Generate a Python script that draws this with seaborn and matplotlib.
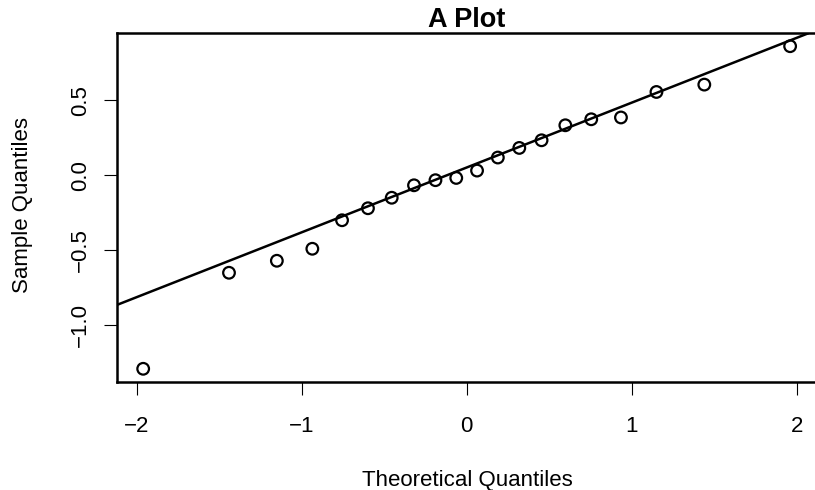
import numpy as np
import pandas as pd
import matplotlib
matplotlib.use("Agg")
import matplotlib.pyplot as plt
import seaborn as sns

# theoretical normal quantiles (n = 20) and the sample values
theoretical = [-1.960, -1.440, -1.150, -0.935, -0.755, -0.598, -0.454, -0.319, -0.189, -0.063,
               0.063, 0.189, 0.319, 0.454, 0.598, 0.755, 0.935, 1.150, 1.440, 1.960]
sample = [-1.29, -0.65, -0.57, -0.49, -0.30, -0.22, -0.15, -0.067, -0.033, -0.018,
          0.031, 0.118, 0.182, 0.233, 0.333, 0.373, 0.385, 0.555, 0.604, 0.86]
x_ticks = [-2, -1, 0, 1, 2]
y_ticks = [-1.0, -0.5, 0.0, 0.5]

df = pd.DataFrame({"theoretical": theoretical, "sample": sample})

sns.set_style("white")
plt.rcParams["font.family"] = ["Liberation Sans", "DejaVu Sans"]
plt.rcParams["text.color"] = "black"
plt.rcParams["axes.labelcolor"] = "black"

W, H = 815, 490
fig = plt.figure(figsize=(W / 100, H / 100), dpi=100)
ax = fig.add_axes([117.3 / W, 1 - 381.7 / H, (816 - 117.3) / W, (381.7 - 33.3) / H])

sns.scatterplot(data=df, x="theoretical", y="sample", ax=ax, marker="o", s=70,
                facecolor="none", edgecolor="black", linewidth=1.6, zorder=3)

# qq line through the quartiles (like R's qqline)
q1, q3 = np.quantile(sample, [0.25, 0.75])
slope = (q3 - q1) / (2 * 0.6745)
intercept = (q1 + q3) / 2
ax.axline((0, intercept), slope=slope, color="black", lw=1.8, zorder=4)

# R style 4% padding
def r_lim(v):
    lo, hi = min(v), max(v)
    pad = 0.04 * (hi - lo)
    return lo - pad, hi + pad

ax.set_xlim(*r_lim(theoretical))
ax.set_ylim(*r_lim(sample))

ax.set_xticks(x_ticks)
ax.set_xticklabels([str(t).replace("-", "\u2212") for t in x_ticks])
ax.set_yticks(y_ticks)
ax.set_yticklabels([f"{t:.1f}".replace("-", "\u2212") for t in y_ticks])
ax.tick_params(axis="both", direction="out", length=9.5, width=0.8, color="black",
               labelsize=16, labelcolor="black", bottom=True, left=True)
ax.tick_params(axis="x", pad=26.7)
ax.tick_params(axis="y", pad=13, labelrotation=90)
for lab in ax.get_xticklabels():
    lab.set_va("baseline")
for lab in ax.get_yticklabels():
    lab.set_rotation_mode("anchor")
    lab.set_ha("center")
    lab.set_va("baseline")

for sp in ax.spines.values():
    sp.set_visible(True)
    sp.set_color("black")
    sp.set_linewidth(1.8)

ax.set_title("A Plot", fontsize=19.5, fontweight="bold", pad=4.3, color="black")

ax.set_xlabel("Theoretical Quantiles", fontsize=16)
ax.xaxis.label.set_va("baseline")
ax.xaxis.set_label_coords(467 / W, 1 - 486 / H, transform=fig.transFigure)

ax.set_ylabel("Sample Quantiles", fontsize=16)
ax.yaxis.label.set_rotation_mode("anchor")
ax.yaxis.label.set_va("baseline")
ax.yaxis.label.set_ha("center")
ax.yaxis.set_label_coords(28.5 / W, 1 - 205 / H, transform=fig.transFigure)

fig.savefig("out.png", dpi=100)
